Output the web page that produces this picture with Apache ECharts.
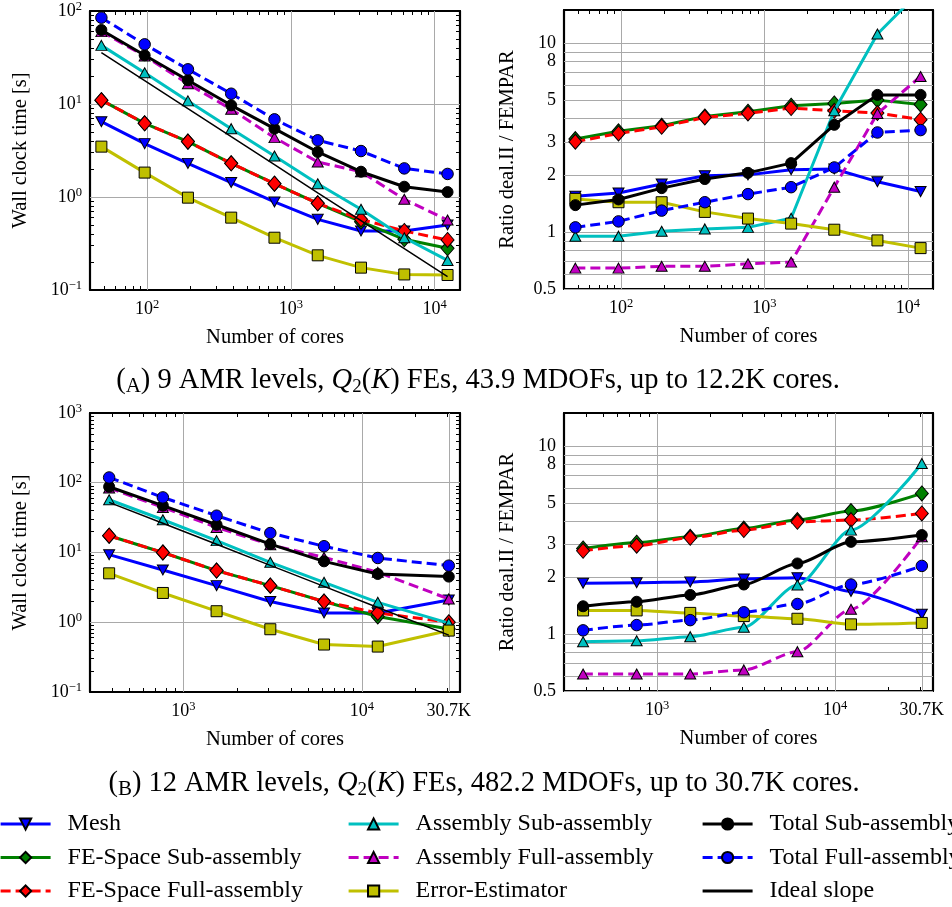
<!DOCTYPE html>
<html><head><meta charset="utf-8">
<script src="https://cdn.jsdelivr.net/npm/echarts@6/dist/echarts.min.js"></script>
<style>html,body{margin:0;padding:0;background:#fff}#c{width:952px;height:907px}</style>
</head><body><div id="c"></div>
<script>
// ---------------- DATA ----------------
const coresA = [48, 96, 192, 384, 768, 1536, 3072, 6144, 12288];
const coresB = [384, 768, 1536, 3072, 6144, 12288, 30720];

const seriesNames = ['Mesh', 'FE-Space Sub-assembly', 'FE-Space Full-assembly',
  'Assembly Sub-assembly', 'Assembly Full-assembly', 'Error-Estimator',
  'Total Sub-assembly', 'Total Full-assembly', 'Ideal slope'];

// (A) wall clock time [s]
const meshTimeA     = [6.46, 3.75, 2.30, 1.43, 0.884, 0.575, 0.431, 0.431, 0.50];
const feSubTimeA    = [11.0, 6.2, 3.94, 2.30, 1.39, 0.855, 0.543, 0.351, 0.281];
const feFullTimeA   = [11.0, 6.2, 3.94, 2.30, 1.39, 0.855, 0.575, 0.431, 0.345];
const asmSubTimeA   = [42.7, 21.7, 10.8, 5.43, 2.76, 1.39, 0.737, 0.365, 0.208];
const asmFullTimeA  = [60.0, 32.8, 16.5, 8.77, 4.35, 2.38, 1.87, 0.944, 0.566];
const errTimeA      = [3.48, 1.83, 0.984, 0.60, 0.365, 0.236, 0.174, 0.147, 0.145];
const totSubTimeA   = [62.5, 33.4, 18.0, 9.68, 5.43, 3.05, 1.87, 1.29, 1.13];
const totFullTimeA  = [84.8, 43.8, 23.6, 12.9, 6.84, 4.07, 3.12, 2.03, 1.77];
const idealTimeA    = [35.6, 17.8, 8.9, 4.45, 2.23, 1.11, 0.556, 0.278, 0.139];

// (A) ratio deal.II / FEMPAR
const meshRatioA    = [1.55, 1.61, 1.80, 1.99, 2.01, 2.14, 2.16, 1.85, 1.64];
const feSubRatioA   = [3.11, 3.42, 3.66, 4.10, 4.34, 4.67, 4.80, 5.0, 4.74];
const feFullRatioA  = [3.01, 3.33, 3.61, 4.05, 4.25, 4.54, 4.39, 4.27, 3.94];
const asmSubRatioA  = [0.952, 0.952, 1.01, 1.04, 1.06, 1.185, 4.39, 11.2, 19.0];
const asmFullRatioA = [0.645, 0.645, 0.659, 0.659, 0.68, 0.694, 1.73, 4.25, 6.67];
const errRatioA     = [1.50, 1.44, 1.44, 1.28, 1.18, 1.11, 1.03, 0.904, 0.823];
const totSubRatioA  = [1.39, 1.49, 1.71, 1.91, 2.06, 2.32, 3.70, 5.33, 5.33];
const totFullRatioA = [1.06, 1.14, 1.30, 1.44, 1.59, 1.73, 2.20, 3.37, 3.47];

// (B) wall clock time [s]
const meshTimeB     = [9.31, 5.62, 3.35, 1.98, 1.36, 1.36, 2.09];
const feSubTimeB    = [17.4, 10.0, 5.5, 3.35, 1.98, 1.21, 0.80];
const feFullTimeB   = [17.4, 10.0, 5.5, 3.35, 1.98, 1.36, 1.0];
const asmSubTimeB   = [57.1, 29.5, 14.8, 7.23, 3.74, 1.93, 0.97];
const asmFullTimeB  = [83.9, 44.3, 22.9, 12.9, 8.5, 5.2, 2.16];
const errTimeB      = [5.03, 2.63, 1.44, 0.794, 0.479, 0.448, 0.76];
const totSubTimeB   = [87.6, 46.9, 25.0, 13.2, 7.47, 4.92, 4.51];
const totFullTimeB  = [119, 61.7, 33.7, 19.0, 12.3, 8.34, 6.48];
const idealTimeB    = [52.3, 26.2, 13.1, 6.54, 3.27, 1.63, 0.654];

// (B) ratio deal.II / FEMPAR
const meshRatioB    = [1.87, 1.88, 1.90, 1.97, 2.0, 1.69, 1.28];
const feSubRatioB   = [2.86, 3.07, 3.30, 3.65, 4.05, 4.52, 5.61];
const feFullRatioB  = [2.78, 2.96, 3.26, 3.58, 3.96, 4.05, 4.39];
const asmSubRatioB  = [0.914, 0.925, 0.972, 1.09, 1.83, 3.58, 8.09];
const asmFullRatioB = [0.616, 0.616, 0.616, 0.647, 0.809, 1.36, 3.30];
const errRatioB     = [1.34, 1.34, 1.30, 1.25, 1.21, 1.13, 1.15];
const totSubRatioB  = [1.41, 1.49, 1.62, 1.84, 2.38, 3.10, 3.37];
const totFullRatioB = [1.05, 1.12, 1.19, 1.31, 1.45, 1.84, 2.31];

// tick labels / grid values
const xLabelsA = [100, 1000, 10000];
const xLabelsB = [1000, 10000, 30720];
const yTimeLabelsA = [0.1, 1, 10, 100];
const yTimeLabelsB = [0.1, 1, 10, 100, 1000];
const yRatioLabels = [0.5, 1, 2, 3, 5, 8, 10];
const yRatioGrid = [0.5, 0.6, 0.7, 0.8, 0.9, 1, 2, 3, 4, 5, 6, 7, 8, 9, 10];
const captionA = ' 9 AMR levels, ';
const captionA2 = ') FEs, 43.9 MDOFs, up to 12.2K cores.';
const captionB = ' 12 AMR levels, ';
const captionB2 = ') FEs, 482.2 MDOFs, up to 30.7K cores.';

// ---------------- CHART ----------------
const FONT = 'Liberation Serif';
function logTicks(min, max) {
  const out = [];
  for (let e = -2; e <= 5; e++) for (let m = 1; m <= 9; m++) {
    const v = +(m * Math.pow(10, e)).toPrecision(3);
    if (v >= min * 0.999999 && v <= max * 1.000001) out.push(v);
  }
  return out;
}
function supLabel(v) {
  if (v === 30720) return '{b|30.7K}';
  const e = Math.round(Math.log10(v));
  if (Math.abs(Math.pow(10, e) - v) / v > 1e-6) return '{b|' + v + '}';
  return '{b|10}{s|' + (e < 0 ? '\u2212' + (-e) : e) + '}';
}
const richLab = {
  b: {fontFamily: FONT, fontSize: 18, lineHeight: 22, color: '#000'},
  s: {fontFamily: FONT, fontSize: 12.5, lineHeight: 10, verticalAlign: 'top', color: '#000'}
};
const nameStyle = {fontFamily: FONT, fontSize: 20.5, color: '#000'};

const panels = [
  {grid: {left: 90, top: 10, width: 370, height: 280}, x: [40, 15000], y: [0.1, 100], xl: xLabelsA, yl: yTimeLabelsA, yGrid: [1, 10], xGrid: [100, 1000, 10000], yName: 'Wall clock time [s]', yGap: 59, ratio: false},
  {grid: {left: 564, top: 10, width: 369, height: 279}, x: [40, 15000], y: [0.5, 15], xl: xLabelsA, yl: yRatioLabels, yGrid: yRatioGrid, xGrid: [100, 1000, 10000], yName: 'Ratio deal.II / FEMPAR', yGap: 46, ratio: true},
  {grid: {left: 90, top: 413, width: 370, height: 279}, x: [300, 35500], y: [0.1, 1000], xl: xLabelsB, yl: yTimeLabelsB, yGrid: [1, 10, 100], xGrid: [1000, 10000, 30720], yName: 'Wall clock time [s]', yGap: 59, ratio: false},
  {grid: {left: 564, top: 413, width: 369, height: 278}, x: [300, 35500], y: [0.5, 15], xl: xLabelsB, yl: yRatioLabels, yGrid: yRatioGrid, xGrid: [1000, 10000, 30720], yName: 'Ratio deal.II / FEMPAR', yGap: 46, ratio: true}
];

const grids = [], xAxes = [], yAxes = [], series = [];
panels.forEach((p, i) => {
  grids.push(Object.assign({containLabel: false}, p.grid));
  const xt = logTicks(p.x[0], p.x[1]).concat(i >= 2 ? [30720] : []);
  const yt = p.ratio ? yRatioGrid : logTicks(p.y[0], p.y[1]);
  const axisLine = {show: true, onZero: false, lineStyle: {color: '#000', width: 2.2}};
  const tick = (vals) => ({show: true, inside: true, length: 4, customValues: vals, lineStyle: {color: '#000', width: 1}});
  xAxes.push({type: 'log', logBase: 10, gridIndex: i, position: 'bottom', min: p.x[0], max: p.x[1],
    axisLine, axisTick: tick(xt), splitLine: {show: false}, minorTick: {show: false},
    axisLabel: {show: true, customValues: p.xl, margin: 8, formatter: supLabel, rich: richLab},
    name: 'Number of cores', nameLocation: 'middle', nameGap: 37, nameTextStyle: nameStyle});
  xAxes.push({type: 'log', logBase: 10, gridIndex: i, position: 'top', min: p.x[0], max: p.x[1],
    axisLine, axisTick: tick(xt), splitLine: {show: false}, axisLabel: {show: false}});
  yAxes.push({type: 'log', logBase: 10, gridIndex: i, position: 'left', min: p.y[0], max: p.y[1],
    axisLine, axisTick: tick(yt), splitLine: {show: false},
    axisLabel: {show: true, customValues: p.yl, margin: 8, formatter: p.ratio ? (v => '{b|' + v + '}') : supLabel, rich: richLab},
    name: p.yName, nameLocation: 'middle', nameGap: p.yGap, nameTextStyle: nameStyle});
  yAxes.push({type: 'log', logBase: 10, gridIndex: i, position: 'right', min: p.y[0], max: p.y[1],
    axisLine, axisTick: tick(yt), splitLine: {show: false}, axisLabel: {show: false}});
  // grid lines through the library's scales
  series.push({type: 'line', name: '_grid' + i, xAxisIndex: 2 * i, yAxisIndex: 2 * i, z: 1, silent: true,
    data: [[p.x[0] * 1.5, p.y[0] * 1.5]], showSymbol: false, symbol: 'none', lineStyle: {opacity: 0},
    markLine: {silent: true, z: 1, animation: false, symbol: ['none', 'none'], label: {show: false},
      lineStyle: {color: '#a9a9a9', width: 1, type: 'solid'}, emphasis: {disabled: true},
      data: p.xGrid.map(v => ({xAxis: v})).concat(p.yGrid.map(v => ({yAxis: v})))}});
});

const styles = {
  'Mesh': {c: '#0000ff', sym: 'path://M0,0L10,0L5,9Z', size: [11, 10], dash: false},
  'FE-Space Sub-assembly': {c: '#008000', sym: 'diamond', size: [13, 15], dash: false},
  'FE-Space Full-assembly': {c: '#ff0000', sym: 'diamond', size: [13, 15], dash: true},
  'Assembly Sub-assembly': {c: '#00c0c0', sym: 'triangle', size: [11, 10], dash: false},
  'Assembly Full-assembly': {c: '#c000c0', sym: 'triangle', size: [11, 10], dash: true},
  'Error-Estimator': {c: '#c0c000', sym: 'rect', size: 11, dash: false},
  'Total Sub-assembly': {c: '#000000', sym: 'circle', size: 11, dash: false},
  'Total Full-assembly': {c: '#0000ff', sym: 'circle', size: 11.5, dash: true},
  'Ideal slope': {c: '#000000', sym: 'none', size: 0, dash: false, thin: true}
};
const panelData = [
  {xs: coresA, ys: [meshTimeA, feSubTimeA, feFullTimeA, asmSubTimeA, asmFullTimeA, errTimeA, totSubTimeA, totFullTimeA, idealTimeA]},
  {xs: coresA, ys: [meshRatioA, feSubRatioA, feFullRatioA, asmSubRatioA, asmFullRatioA, errRatioA, totSubRatioA, totFullRatioA]},
  {xs: coresB, ys: [meshTimeB, feSubTimeB, feFullTimeB, asmSubTimeB, asmFullTimeB, errTimeB, totSubTimeB, totFullTimeB, idealTimeB]},
  {xs: coresB, ys: [meshRatioB, feSubRatioB, feFullRatioB, asmSubRatioB, asmFullRatioB, errRatioB, totSubRatioB, totFullRatioB]}
];
panelData.forEach((pd, i) => {
  pd.ys.forEach((ys, k) => {
    const name = seriesNames[k];
    const st = styles[name];
    series.push({
      type: 'line', name, xAxisIndex: 2 * i, yAxisIndex: 2 * i, z: 2 + k * 0.01,
      data: pd.xs.map((x, j) => [x, ys[j]]),
      symbol: st.sym, symbolSize: st.size, showSymbol: st.sym !== 'none',
      smooth: i === 3 ? 0.25 : false, smoothMonotone: 'x',
      lineStyle: {color: st.c, width: st.thin ? 1.5 : 3, type: st.dash ? [10, 5] : 'solid'},
      itemStyle: st.sym === 'none'
        ? {color: 'rgba(0,0,0,0)', borderColor: 'rgba(0,0,0,0)', borderWidth: 0}
        : {color: st.c, borderColor: '#000', borderWidth: 1},
      emphasis: {disabled: true}, animation: false
    });
  });
});

const legendBase = {orient: 'vertical', top: 812, height: 95, padding: 0, itemWidth: 50, itemHeight: 14, itemGap: 9.5,
  lineStyle: {width: 3.2},
  textStyle: {fontFamily: FONT, fontSize: 24, lineHeight: 24, color: '#000', padding: [0, 0, 0, 12]}, selectedMode: false};

const capRich = {
  n: {fontFamily: FONT, fontSize: 28.5, lineHeight: 32, fontWeight: 'normal', color: '#000'},
  sc: {fontFamily: FONT, fontSize: 21, lineHeight: 28, verticalAlign: 'bottom', fontWeight: 'normal', color: '#000'},
  it: {fontFamily: FONT, fontSize: 28.5, lineHeight: 32, fontStyle: 'italic', fontWeight: 'normal', color: '#000'},
  sub: {fontFamily: FONT, fontSize: 19, lineHeight: 16, verticalAlign: 'bottom', fontWeight: 'normal', color: '#000'}
};
function cap(letter, t1, t2) {
  return '{n|(}{sc|' + letter + '}{n|)' + t1 + '}{it|Q}{sub|2}{n|(}{it|K}{n|' + t2 + '}';
}

const chart = echarts.init(document.getElementById('c'), null, {renderer: 'canvas'});
chart.setOption({
  animation: false,
  backgroundColor: '#fff',
  title: [
    {text: cap('A', captionA, captionA2), left: 478, top: 365, textAlign: 'center', padding: 0, textStyle: {fontWeight: 'normal', rich: capRich}},
    {text: cap('B', captionB, captionB2), left: 484, top: 768, textAlign: 'center', padding: 0, textStyle: {fontWeight: 'normal', rich: capRich}}
  ],
  legend: [
    Object.assign({left: -1, data: seriesNames.slice(0, 3)}, legendBase),
    Object.assign({left: 347, data: seriesNames.slice(3, 6)}, legendBase),
    Object.assign({left: 701, data: seriesNames.slice(6, 9)}, legendBase)
  ],
  grid: grids, xAxis: xAxes, yAxis: yAxes, series
});
</script></body></html>
